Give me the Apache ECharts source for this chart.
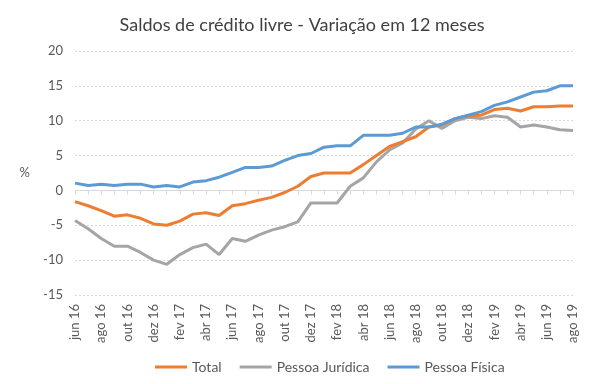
<!DOCTYPE html>
<html><head><meta charset="utf-8">
<script src="https://cdn.jsdelivr.net/npm/echarts@6/dist/echarts.min.js"></script>
<style>html,body{margin:0;padding:0;background:#fff}#c{width:602px;height:384px}</style>
</head><body><div id="c"></div>
<script>
var months = ['jun 16','jul 16','ago 16','set 16','out 16','nov 16','dez 16','jan 17','fev 17','mar 17','abr 17','mai 17',
  'jun 17','jul 17','ago 17','set 17','out 17','nov 17','dez 17','jan 18','fev 18','mar 18','abr 18','mai 18',
  'jun 18','jul 18','ago 18','set 18','out 18','nov 18','dez 18','jan 19','fev 19','mar 19','abr 19','mai 19',
  'jun 19','jul 19','ago 19'];
var total = [-1.6,-2.2,-2.9,-3.7,-3.5,-4.0,-4.8,-5.0,-4.4,-3.4,-3.2,-3.6,
  -2.2,-1.9,-1.4,-1.0,-0.3,0.6,2.0,2.5,2.5,2.5,3.7,5.0,
  6.3,7.0,7.7,9.1,9.4,10.3,10.7,10.8,11.6,11.8,11.4,12.0,
  12.0,12.1,12.1];
var pj = [-4.3,-5.5,-6.9,-8.0,-8.0,-8.9,-10.0,-10.6,-9.2,-8.2,-7.7,-9.2,
  -6.9,-7.3,-6.4,-5.7,-5.2,-4.5,-1.8,-1.8,-1.8,0.6,1.8,4.1,
  5.8,6.8,8.8,10.0,8.9,10.0,10.5,10.3,10.7,10.5,9.1,9.4,
  9.1,8.7,8.6];
var pf = [1.05,0.7,0.9,0.7,0.9,0.9,0.5,0.7,0.5,1.2,1.4,1.9,
  2.6,3.3,3.3,3.5,4.3,5.0,5.3,6.2,6.4,6.4,7.9,7.9,
  7.9,8.2,9.1,9.1,9.5,10.3,10.8,11.3,12.2,12.7,13.4,14.1,
  14.3,15.0,15.0];
var seriesNames = ['Total','Pessoa Jurídica','Pessoa Física'];
var yTicks = {min:-15, max:20, interval:5};

var txt = '#595959';
var font = 'Lato';
var chart = echarts.init(document.getElementById('c'), null, {renderer:'canvas'});
chart.setOption({
  animation:false,
  color:['#ED7D31','#A5A5A5','#5B9BD5'],
  title:{text:'Saldos de crédito livre - Variação em 12 meses', left:297, textAlign:'center', top:11,
    textStyle:{fontFamily:font, fontSize:18, fontWeight:'normal', color:'#404040'}},
  grid:{left:75, right:29, top:51, bottom:89},
  legend:{data:seriesNames, top:355, left:150, icon:'rect', itemWidth:32, itemHeight:3, itemGap:18,
    textStyle:{fontFamily:font, fontSize:14, color:txt}},
  xAxis:[{type:'category', data:months, boundaryGap:false, position:'bottom',
      axisLine:{show:false, onZero:false}, axisTick:{show:false},
      axisLabel:{interval:1, rotate:90, fontFamily:font, fontSize:13, color:txt, margin:9},
      splitLine:{show:false}},
    {type:'category', data:months, boundaryGap:false, position:'bottom',
      axisLine:{show:true, onZero:true, onZeroAxisIndex:0, lineStyle:{color:'#D9D9D9', width:1}},
      axisTick:{show:true, interval:0, length:4, lineStyle:{color:'#D9D9D9'}},
      axisLabel:{show:false}, splitLine:{show:false}}],
  yAxis:{type:'value', min:yTicks.min, max:yTicks.max, interval:yTicks.interval,
    name:'%', nameLocation:'middle', nameRotate:0, nameGap:45,
    nameTextStyle:{fontFamily:font, fontSize:13, color:txt},
    axisLine:{show:false}, axisTick:{show:false},
    axisLabel:{fontFamily:font, fontSize:13, color:txt, margin:12},
    splitLine:{lineStyle:{color:'#D9D9D9', type:[2,2], width:1}}},
  series:[
    {name:seriesNames[0], type:'line', data:total, xAxisIndex:0, showSymbol:false, symbol:'none', lineStyle:{width:3}, z:3},
    {name:seriesNames[1], type:'line', data:pj, xAxisIndex:0, showSymbol:false, symbol:'none', lineStyle:{width:3}, z:2},
    {name:seriesNames[2], type:'line', data:pf, xAxisIndex:0, showSymbol:false, symbol:'none', lineStyle:{width:3}, z:4}
  ]
});
</script></body></html>
